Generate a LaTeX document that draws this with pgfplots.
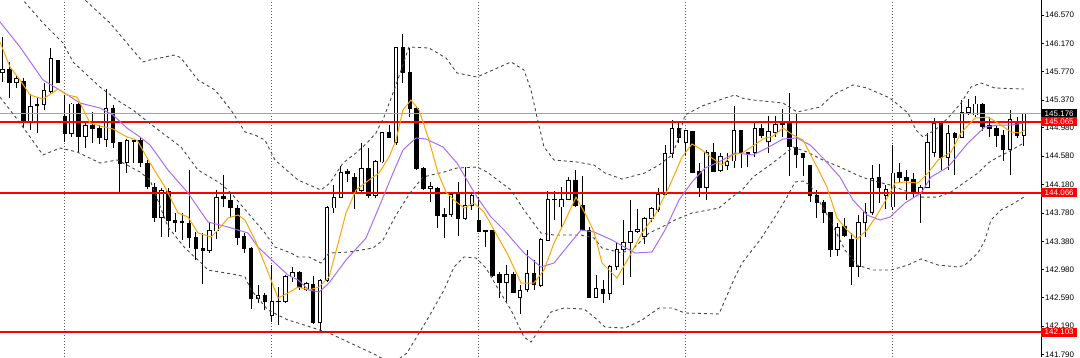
\documentclass[border=0pt]{standalone}
\usepackage{fontspec}
\setmainfont{Liberation Sans}
\usepackage{pgfplots}
\usepackage{pgfplotstable}
\pgfplotsset{compat=1.18}

\definecolor{maorange}{RGB}{255,165,0}
\definecolor{mapurple}{RGB}{165,110,245}
\definecolor{bidgray}{RGB}{150,165,185}
\definecolor{bbgray}{RGB}{70,70,70}
\definecolor{gridgray}{RGB}{90,90,90}

\pgfplotstableread{
i o h l c
0 145.753 146.260 145.626 145.795
1 145.795 145.908 145.400 145.612
2 145.612 145.725 145.541 145.682
3 145.626 145.682 144.977 145.062
4 145.076 145.457 144.950 145.287
5 145.295 145.414 144.908 145.302
6 145.302 145.612 145.231 145.513
7 145.499 146.105 145.471 145.950
8 145.922 145.936 145.612 145.612
9 145.146 145.443 144.781 144.894
10 144.894 145.330 144.851 145.316
11 145.316 145.330 144.640 144.865
12 144.865 145.062 144.696 145.020
13 145.020 145.203 144.767 144.977
14 144.977 145.020 144.753 144.837
15 144.809 145.527 144.710 145.259
16 145.259 145.302 144.696 144.767
17 144.767 144.767 144.062 144.471
18 144.485 144.823 144.344 144.795
19 144.795 144.809 144.485 144.788
20 144.795 144.851 144.428 144.485
21 144.471 144.527 144.118 144.160
22 144.146 144.203 143.654 143.724
23 143.724 144.132 143.442 144.104
24 144.090 144.132 143.442 143.668
25 143.668 143.781 143.513 143.640
26 143.640 143.781 143.400 143.654
27 143.626 144.386 143.287 143.442
28 143.442 143.513 143.118 143.287
29 143.287 143.499 142.780 143.259
30 143.259 143.640 143.217 143.541
31 143.527 144.104 143.414 144.005
32 144.019 144.316 143.865 143.991
33 143.963 144.076 143.724 143.851
34 143.837 143.893 143.330 143.442
35 143.456 143.499 143.217 143.287
36 143.287 143.301 142.428 142.583
37 142.583 142.766 142.513 142.625
38 142.625 142.653 142.414 142.527
39 142.330 143.048 142.245 142.527
40 142.527 142.738 142.203 142.533
41 142.527 142.907 142.513 142.893
42 142.879 143.020 142.808 142.949
43 142.949 142.963 142.696 142.724
44 142.696 142.808 142.682 142.794
45 142.780 142.893 142.217 142.245
46 142.245 142.850 142.090 142.836
47 142.836 143.879 142.808 143.865
48 143.851 144.175 143.781 144.005
49 144.005 144.443 143.991 144.358
50 144.372 144.400 144.217 144.330
51 144.287 144.344 143.837 144.076
52 144.104 144.767 144.062 144.414
53 144.414 144.696 143.991 144.034
54 144.034 144.527 143.991 144.513
55 144.499 144.908 144.485 144.908
56 144.908 145.020 144.837 144.851
57 144.767 146.119 144.739 146.105
58 146.105 146.302 145.612 145.753
59 145.753 146.105 145.132 145.259
60 145.259 145.273 144.386 144.414
61 144.414 144.428 144.104 144.132
62 144.132 144.217 143.935 144.160
63 144.132 144.146 143.569 143.752
64 143.766 143.851 143.428 143.738
65 143.766 144.076 143.724 144.048
66 144.048 144.217 143.456 143.710
67 143.710 144.428 143.682 143.893
68 143.893 144.062 143.823 144.034
69 143.668 144.005 143.513 143.513
70 143.527 143.541 143.301 143.520
71 143.527 143.541 142.879 142.907
72 142.921 142.949 142.583 142.808
73 142.808 143.048 142.513 142.921
74 142.921 142.949 142.653 142.667
75 142.597 142.766 142.358 142.682
76 142.696 143.259 142.667 142.935
77 142.935 143.118 142.696 142.780
78 142.766 143.428 142.738 143.414
79 143.400 144.090 143.386 143.977
80 143.977 144.090 143.682 143.970
81 143.865 144.146 143.583 143.977
82 143.977 144.287 143.963 144.245
83 144.245 144.386 143.865 143.893
84 143.893 144.301 143.541 143.541
85 143.541 143.583 142.583 142.597
86 142.597 142.907 142.597 142.710
87 142.696 142.836 142.513 142.653
88 142.653 143.048 142.555 143.020
89 143.020 143.372 142.977 143.273
90 143.273 143.682 142.766 143.358
91 143.358 143.963 142.879 143.513
92 143.513 143.837 143.499 143.555
93 143.456 143.724 143.344 143.710
94 143.710 143.865 143.654 143.837
95 143.823 144.132 143.795 144.048
96 144.048 144.739 144.034 144.612
97 144.612 145.090 144.555 144.964
98 144.964 145.048 144.767 144.851
99 144.767 144.950 144.598 144.936
100 144.922 144.922 144.344 144.358
101 144.372 144.485 144.005 144.146
102 144.146 144.668 143.963 144.626
103 144.626 144.767 144.358 144.372
104 144.386 144.626 144.358 144.583
105 144.443 144.626 144.386 144.513
106 144.513 145.287 144.414 144.936
107 144.936 144.950 144.414 144.626
108 144.626 144.640 144.428 144.612
109 144.626 145.048 144.569 144.977
110 144.964 145.034 144.837 144.879
111 144.781 145.146 144.626 144.922
112 144.908 145.146 144.851 145.034
113 145.034 145.245 144.851 145.048
114 145.048 145.471 144.301 144.724
115 144.710 145.189 144.414 144.598
116 144.612 144.626 144.301 144.569
117 144.443 144.457 143.935 144.034
118 144.034 144.104 143.710 143.935
119 143.935 143.963 143.640 143.781
120 143.781 143.781 143.161 143.273
121 143.273 143.640 143.175 143.583
122 143.597 143.710 143.442 143.470
123 143.414 143.499 142.766 143.020
124 143.020 143.752 142.879 143.640
125 143.640 143.921 143.442 143.781
126 143.781 144.457 143.752 144.273
127 144.287 144.471 143.921 144.146
128 144.034 144.175 143.837 144.118
129 143.865 144.739 143.823 144.344
130 144.358 144.485 144.217 144.287
131 144.287 144.386 143.963 144.245
132 144.259 144.344 144.005 144.076
133 144.076 144.175 143.640 144.146
134 144.146 144.908 144.146 144.767
135 144.626 145.118 144.569 145.048
136 145.048 145.062 144.386 144.569
137 144.569 145.020 144.386 144.894
138 144.894 144.922 144.316 144.851
139 144.851 145.372 144.837 145.203
140 145.203 145.386 145.161 145.273
141 145.161 145.428 145.132 145.316
142 145.316 145.330 144.936 145.005
143 145.020 145.132 144.851 144.977
144 144.977 145.005 144.710 144.879
145 144.879 144.950 144.513 144.668
146 144.682 145.231 144.316 145.104
147 145.048 145.132 144.837 144.879
148 144.879 145.176 144.724 145.176
}\ohlc

\pgfplotstableread{
x y
-0.39 146.189
1.06 145.837
2.51 145.654
3.96 145.443
5.84 145.386
8.01 145.527
9.32 145.443
10.77 145.414
12.65 145.048
14.10 145.005
15.99 144.964
18.01 144.851
19.46 144.809
21.35 144.485
23.52 144.146
25.41 143.781
26.86 143.724
28.30 143.499
30.19 143.442
31.20 143.541
32.65 143.710
34.10 143.752
35.12 143.682
36.57 143.400
38.16 143.020
39.90 142.583
41.35 142.653
42.80 142.738
44.39 142.696
45.84 142.738
47.29 142.879
48.74 143.400
49.75 143.781
51.20 144.104
53.09 144.245
54.54 144.344
55.99 144.569
57.00 144.809
58.01 145.231
59.17 145.372
60.33 145.231
61.78 144.809
63.09 144.344
64.25 144.076
65.41 143.963
66.86 143.851
68.30 143.921
69.75 143.795
71.20 143.541
73.09 143.217
75.12 142.794
77.00 142.794
78.45 142.977
79.90 143.358
81.35 143.640
83.09 144.005
84.68 143.724
85.70 143.513
86.86 143.076
89.03 142.864
90.78 143.161
92.65 143.499
94.54 143.752
96.57 144.146
98.45 144.569
99.90 144.753
101.35 144.668
102.80 144.555
104.25 144.457
105.70 144.598
107.15 144.626
108.30 144.696
110.19 144.823
111.64 144.865
113.09 144.977
114.54 144.879
115.99 144.809
118.01 144.428
119.46 144.146
120.91 143.710
122.36 143.541
123.81 143.414
125.26 143.541
126.71 143.752
128.59 144.062
129.32 144.203
130.77 144.217
132.65 144.203
134.10 144.344
135.55 144.527
137.43 144.640
138.88 144.908
140.91 145.118
142.80 145.132
144.25 145.048
146.13 144.922
147.43 144.908
148.16 144.950
}\fastma

\pgfplotstableread{
x y
-0.39 146.471
2.51 146.119
5.84 145.654
8.74 145.485
11.20 145.330
14.10 145.259
15.99 145.161
18.01 144.977
19.90 144.851
21.35 144.739
23.96 144.386
26.86 144.062
29.75 143.654
32.65 143.583
35.55 143.499
37.00 143.301
39.46 143.076
41.35 142.907
42.80 142.836
44.39 142.696
45.84 142.667
47.29 142.794
49.75 143.118
52.65 143.428
54.54 143.865
56.57 144.344
58.01 144.668
59.90 144.837
61.35 144.823
63.81 144.710
65.83 144.485
68.74 144.005
70.77 143.724
72.65 143.541
75.55 143.217
78.01 143.020
79.90 143.076
81.78 143.301
83.81 143.541
85.70 143.513
88.30 143.400
91.64 143.217
94.10 143.231
95.99 143.541
98.01 143.963
99.90 144.217
101.78 144.414
103.81 144.499
106.13 144.626
108.74 144.598
110.77 144.696
113.09 144.823
115.12 144.837
117.01 144.739
118.88 144.555
121.35 144.287
123.23 143.963
125.26 143.752
127.15 143.682
128.59 143.724
130.77 143.921
133.09 144.062
134.54 144.287
137.00 144.428
139.90 144.767
142.36 144.992
144.25 145.020
146.13 145.020
147.87 145.048
}\slowma

\pgfplotstableread{
x y
8.30 147.133
11.93 146.781
15.55 146.457
20.33 145.908
21.35 145.936
24.97 146.007
25.84 145.964
28.30 145.654
30.77 145.513
33.09 145.231
35.12 144.922
36.57 144.879
38.01 144.809
39.46 144.527
42.80 144.245
46.13 144.104
47.43 144.203
49.32 144.485
51.20 144.626
52.80 144.767
54.10 144.908
55.26 145.132
57.00 145.584
58.88 146.119
61.78 146.105
64.25 145.964
65.83 145.753
68.74 145.696
73.67 145.908
75.55 145.795
76.57 145.513
77.43 145.132
78.45 144.710
79.90 144.527
83.23 144.499
85.70 144.457
87.29 144.344
89.75 144.259
93.09 144.344
95.12 144.457
97.00 144.598
97.72 144.767
98.88 145.161
101.35 145.287
104.68 145.400
106.13 145.443
107.15 145.400
108.74 145.372
113.09 145.330
115.12 145.203
118.45 145.273
120.33 145.443
123.23 145.584
125.26 145.541
128.59 145.400
131.20 145.189
132.36 144.950
133.38 144.851
135.12 144.950
137.00 145.118
138.88 145.330
140.33 145.555
141.78 145.612
143.80 145.541
148.00 145.527
}\bbup

\pgfplotstableread{
x y
-0.39 147.133
2.94 146.781
5.84 146.457
8.74 146.175
10.19 145.908
14.10 145.555
16.57 145.372
18.88 145.231
21.06 145.062
22.94 144.922
25.84 144.710
28.30 144.386
31.49 144.203
33.09 144.062
35.55 143.781
38.01 143.499
39.46 143.301
41.78 143.217
42.80 143.161
44.39 143.161
46.13 143.076
47.29 143.217
50.19 143.231
53.67 143.287
55.12 143.400
57.00 143.752
59.03 144.062
60.91 144.287
63.96 144.358
65.83 144.414
68.74 144.428
70.19 144.358
73.67 144.104
75.55 143.823
78.01 143.499
79.90 143.470
83.81 143.470
85.70 143.428
86.86 143.287
89.75 143.217
91.64 143.301
93.67 143.499
95.55 143.583
97.43 143.682
99.90 143.781
102.36 143.823
103.81 143.851
105.70 144.005
107.15 144.104
108.74 144.287
111.20 144.457
113.09 144.598
114.54 144.710
116.57 144.640
118.88 144.527
121.35 144.428
123.81 144.316
125.70 144.245
128.59 144.175
133.09 144.005
135.55 144.005
137.43 144.076
139.46 144.217
141.35 144.344
142.80 144.485
144.25 144.569
145.70 144.640
148.00 144.767
}\bbmid

\pgfplotstableread{
x y
-0.39 145.414
2.51 145.048
5.84 144.598
8.30 144.696
10.77 144.640
14.10 144.485
16.57 144.527
18.01 144.457
19.90 144.358
21.35 144.245
23.96 143.583
26.42 143.287
28.77 143.076
29.75 142.977
34.10 142.907
35.12 142.879
35.99 142.696
38.45 142.414
41.35 142.273
42.80 142.231
47.29 142.090
54.10 141.780
56.42 141.653
58.59 141.808
61.49 142.273
63.96 142.696
65.41 143.020
66.86 143.161
68.59 143.147
70.04 143.006
71.64 142.738
73.67 142.414
75.55 142.034
76.57 141.963
77.43 142.090
79.46 142.386
81.35 142.442
84.25 142.428
85.70 142.316
87.29 142.174
90.19 142.160
92.65 142.273
95.12 142.442
97.00 142.442
98.88 142.372
103.81 142.358
104.68 142.555
106.13 142.879
107.15 143.076
109.75 143.400
111.64 143.682
113.67 144.005
114.83 144.217
115.99 144.231
117.01 144.175
119.90 143.682
122.07 143.259
123.81 143.048
126.13 142.977
128.74 142.977
131.20 143.048
133.09 143.133
135.55 143.048
138.45 143.020
139.46 143.048
141.35 143.217
142.36 143.400
143.23 143.682
144.68 143.823
146.13 143.893
148.00 144.005
}\bblow

\begin{document}
\begin{tikzpicture}
\path[use as bounding box] (0pt,0pt) rectangle (1080pt,357pt);
\begin{axis}[
  at={(0pt,0pt)}, anchor=south west,
  scale only axis, width=1041pt, height=357pt,
  xmin=-0.391, xmax=150.478, ymin=141.752, ymax=146.781,
  axis line style={draw=none},
  xtick={9,39,69,99,129}, xticklabels={},
  xtick style={draw=none},
  xmajorgrids,
  major x grid style={gridgray, line width=1pt, dash pattern=on 1pt off 2pt},
  ytick={146.570,146.170,145.770,145.370,144.980,144.580,144.180,143.780,143.380,142.980,142.590,142.190,141.790},
  yticklabels={146.570,146.170,145.770,145.370,144.980,144.580,144.180,143.780,143.380,142.980,142.590,142.190,141.790},
  ytick pos=right, yticklabel pos=right,
  tick align=outside, major tick length=3pt,
  ytick style={black, line width=0.8pt},
  yticklabel style={font=\fontsize{8}{9}\selectfont, inner sep=0pt, xshift=1pt},
  candle/.style={draw=none, mark=none, forget plot,
    error bars/.cd, y dir=plus, y explicit, error mark=none},
]
% wicks
\addplot[candle, error bar style={draw=black, solid, line width=1pt}]
  table[x=i, y=l, y error plus expr={\thisrow{h}-\thisrow{l}}] {\ohlc};
% bodies (outline / bearish fill)
\addplot[candle, error bar style={draw=black, solid, line width=4.5pt}]
  table[x=i, y expr={min(\thisrow{o},\thisrow{c})-0.007}, y error plus expr={abs(\thisrow{c}-\thisrow{o})+0.014}] {\ohlc};
% bullish hollow interior
\addplot[candle, error bar style={draw=white, solid, line width=2.5pt}]
  table[x=i, y expr={\thisrow{o}+0.007}, y error plus expr={max(\thisrow{c}-\thisrow{o}-0.014,0)}] {\ohlc};

% horizontal levels
\addplot[bidgray, line width=1pt, forget plot] coordinates {(-1,145.176) (152,145.176)};
\addplot[red, line width=2pt, forget plot] coordinates {(-1,145.065) (152,145.065)};
\addplot[red, line width=2pt, forget plot] coordinates {(-1,144.066) (152,144.066)};
\addplot[red, line width=2pt, forget plot] coordinates {(-1,142.103) (152,142.103)};

% Bollinger bands
\addplot[bbgray, line width=0.9pt, dash pattern=on 3pt off 3pt, forget plot] table[x=x,y=y] {\bbup};
\addplot[bbgray, line width=0.9pt, dash pattern=on 3pt off 3pt, forget plot] table[x=x,y=y] {\bbmid};
\addplot[bbgray, line width=0.9pt, dash pattern=on 3pt off 3pt, forget plot] table[x=x,y=y] {\bblow};

% moving averages
\addplot[mapurple, line width=1pt, forget plot] table[x=x,y=y] {\slowma};
\addplot[maorange, line width=1pt, forget plot] table[x=x,y=y] {\fastma};

\coordinate (lbBid) at (axis cs:150.478,145.176);
\coordinate (lbA) at (axis cs:150.478,145.065);
\coordinate (lbB) at (axis cs:150.478,144.066);
\coordinate (lbC) at (axis cs:150.478,142.103);
\coordinate (ax0) at (rel axis cs:1,0);
\coordinate (ax1) at (rel axis cs:1,1);
\end{axis}
\draw[black, line width=1pt] (ax0) -- (ax1);
\tikzset{lbl/.style={anchor=west, inner sep=0pt, minimum width=36pt, minimum height=9pt, text=white, font=\fontsize{8}{9}\selectfont}}
\node[lbl, fill=black] at (lbBid) {145.176};
\node[lbl, fill=red] at (lbA) {145.065};
\node[lbl, fill=red] at (lbB) {144.066};
\node[lbl, fill=red] at (lbC) {142.103};
\end{tikzpicture}
\end{document}
